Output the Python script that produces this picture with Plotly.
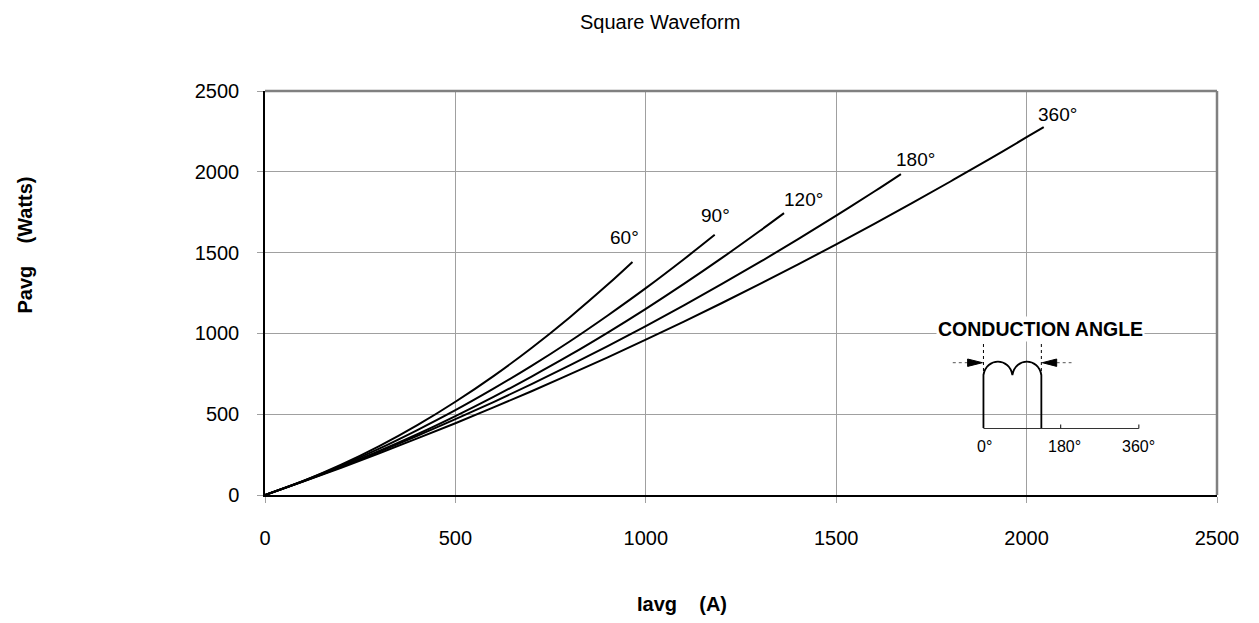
import plotly.graph_objects as go

# ---- data (Iavg in A, Pavg in W) ----
i_60 = [0, 100, 200, 300, 400, 500, 600, 700, 800, 900, 965]
p_60 = [0, 86, 187, 302, 432, 577, 736, 910, 1099, 1302, 1442]

i_90 = [0, 100, 200, 300, 400, 500, 600, 700, 800, 900, 1000, 1100, 1181]
p_90 = [0, 87, 182, 287, 402, 525, 658, 799, 950, 1111, 1280, 1459, 1610]

i_120 = [0, 100, 200, 300, 400, 500, 600, 700, 800, 900, 1000, 1100, 1200, 1300, 1363]
p_120 = [0, 84, 174, 272, 376, 488, 607, 733, 865, 1005, 1152, 1306, 1467, 1635, 1744]

i_180 = [0, 100, 200, 300, 400, 500, 600, 700, 800, 900, 1000, 1100, 1200, 1300, 1400, 1500, 1600, 1670]
p_180 = [0, 85, 175, 268, 366, 469, 575, 686, 802, 921, 1045, 1173, 1306, 1442, 1583, 1729, 1878, 1986]

i_360 = [0, 100, 200, 300, 400, 500, 600, 700, 800, 900, 1000, 1100, 1200, 1300, 1400, 1500,
         1600, 1700, 1800, 1900, 2000, 2045]
p_360 = [0, 83, 169, 258, 350, 444, 542, 642, 746, 852, 961, 1073, 1188, 1306, 1427, 1551,
         1678, 1807, 1940, 2075, 2214, 2277]

series_labels = ["60°", "90°", "120°", "180°", "360°"]
ticks = [0, 500, 1000, 1500, 2000, 2500]

series = [(i_60, p_60), (i_90, p_90), (i_120, p_120), (i_180, p_180), (i_360, p_360)]
# label offsets (pixels) from each curve's end point
label_shift = [(-8, 24), (1, 19), (19, 14), (15, 15), (14, 13)]

# page body has an 8px margin: figure is placed at (8, 8) in the 1259x623 window
OFF = 8
W, H = 1259 - 2 * OFF, 623 - 2 * OFF
# plot area in window (screen) pixels
L, R, T, B = 265, 1227, 91, 495
FONT = "Liberation Sans, Arial, sans-serif"


def px(X):
    return (X - L) / (R - L)


def py(Y):
    return (B - Y) / (B - T)


fig = go.Figure()
for (xs, ys), name in zip(series, series_labels):
    fig.add_trace(go.Scatter(x=xs, y=ys, mode="lines", name=name,
                             line=dict(color="black", width=2, shape="spline"),
                             hoverinfo="x+y+name"))

annotations = []
for (xs, ys), name, (dx, dy) in zip(series, series_labels, label_shift):
    annotations.append(dict(x=xs[-1], y=ys[-1], xref="x", yref="y", text=name,
                            showarrow=False, xshift=dx, yshift=dy,
                            xanchor="center", yanchor="middle",
                            font=dict(size=19, color="black", family=FONT)))


def note(X, Y, text, size, **kw):
    d = dict(x=px(X), y=py(Y), xref="paper", yref="paper", text=text,
             showarrow=False, xanchor="center", yanchor="middle",
             font=dict(size=size, color="black", family=FONT))
    d.update(kw)
    annotations.append(d)


# titles
note(664, 22, "Square Waveform", 20)
note(686, 604, "<b>Iavg\u00a0\u00a0\u00a0\u00a0(A)</b>", 20)
note(22, 245, "<b>Pavg\u00a0\u00a0\u00a0\u00a0(Watts)</b>", 20, textangle=-90)

# inset: conduction angle sketch
note(1049, 329, "<b>CONDUCTION ANGLE</b>", 19.5, bgcolor="white", borderpad=1)
for X, t in [(992.5, "0°"), (1072.5, "180°"), (1147.5, "360°")]:
    note(X, 446, t, 16)


def path(cmds):
    out = []
    for c in cmds:
        if isinstance(c, str):
            out.append(c)
        else:
            out.append(f"{px(c[0]):.5f},{py(c[1]):.5f}")
    return " ".join(out)


shapes = []
# gray top/right frame
shapes.append(dict(type="line", xref="paper", yref="paper", x0=0, x1=1, y0=1, y1=1,
                   line=dict(color="#808080", width=2.5)))
shapes.append(dict(type="line", xref="paper", yref="paper", x0=1, x1=1, y0=0, y1=1,
                   line=dict(color="#808080", width=2.5)))

x0w, x1w, ybase, yedge, ytop = 991, 1049.5, 428, 375, 361.7
xm = (x0w + x1w) / 2
hc = (yedge - ytop) / 0.75
wave = path(["M", (x0w, ybase), "L", (x0w, yedge),
             "C", (x0w + 3, yedge - hc), (xm - 3, yedge - hc), (xm, yedge),
             "C", (xm + 3, yedge - hc), (x1w - 3, yedge - hc), (x1w, yedge),
             "L", (x1w, ybase)])
shapes.append(dict(type="path", xref="paper", yref="paper", path=wave,
                   line=dict(color="black", width=1.8)))
# baseline of inset
shapes.append(dict(type="line", xref="paper", yref="paper",
                   x0=px(991), x1=px(1148), y0=py(428.5), y1=py(428.5),
                   line=dict(color="#333333", width=1.2)))
for X in (1069, 1148):
    shapes.append(dict(type="line", xref="paper", yref="paper",
                       x0=px(X), x1=px(X), y0=py(428.5), y1=py(424.5),
                       line=dict(color="#333333", width=1.2)))
# dotted markers
for X in (x0w, x1w):
    shapes.append(dict(type="line", xref="paper", yref="paper",
                       x0=px(X), x1=px(X), y0=py(344), y1=py(yedge),
                       line=dict(color="black", width=1, dash="dot")))
shapes.append(dict(type="line", xref="paper", yref="paper",
                   x0=px(960), x1=px(975), y0=py(362.7), y1=py(362.7),
                   line=dict(color="#555555", width=1, dash="dot")))
shapes.append(dict(type="line", xref="paper", yref="paper",
                   x0=px(1065), x1=px(1080), y0=py(362.7), y1=py(362.7),
                   line=dict(color="#555555", width=1, dash="dot")))
# arrow heads
shapes.append(dict(type="path", xref="paper", yref="paper",
                   path=path(["M", (975, 359), "L", (990, 362.7), "L", (975, 366.4), "Z"]),
                   fillcolor="black", line=dict(color="black", width=1)))
shapes.append(dict(type="path", xref="paper", yref="paper",
                   path=path(["M", (1065, 359), "L", (1050.5, 362.7), "L", (1065, 366.4), "Z"]),
                   fillcolor="black", line=dict(color="black", width=1)))

axis_common = dict(range=[0, 2500], tickvals=ticks, ticktext=[str(t) for t in ticks],
                   showgrid=True, gridcolor="#a0a0a0", gridwidth=1,
                   ticks="outside", ticklen=6, tickcolor="#a0a0a0", tickwidth=1,
                   showline=True, linecolor="black", linewidth=1.5,
                   zeroline=False, tickfont=dict(size=20, color="black", family=FONT))

fig.update_layout(
    width=W, height=H,
    margin=dict(l=L - OFF, r=W - (R - OFF), t=T - OFF, b=H - (B - OFF)),
    paper_bgcolor="white", plot_bgcolor="white",
    showlegend=False,
    xaxis=dict(**axis_common, ticklabelstandoff=18),
    yaxis=dict(**axis_common, ticklabelstandoff=14),
    annotations=annotations,
    shapes=shapes,
    font=dict(family=FONT, color="black"),
)

fig.write_html("out.html")
